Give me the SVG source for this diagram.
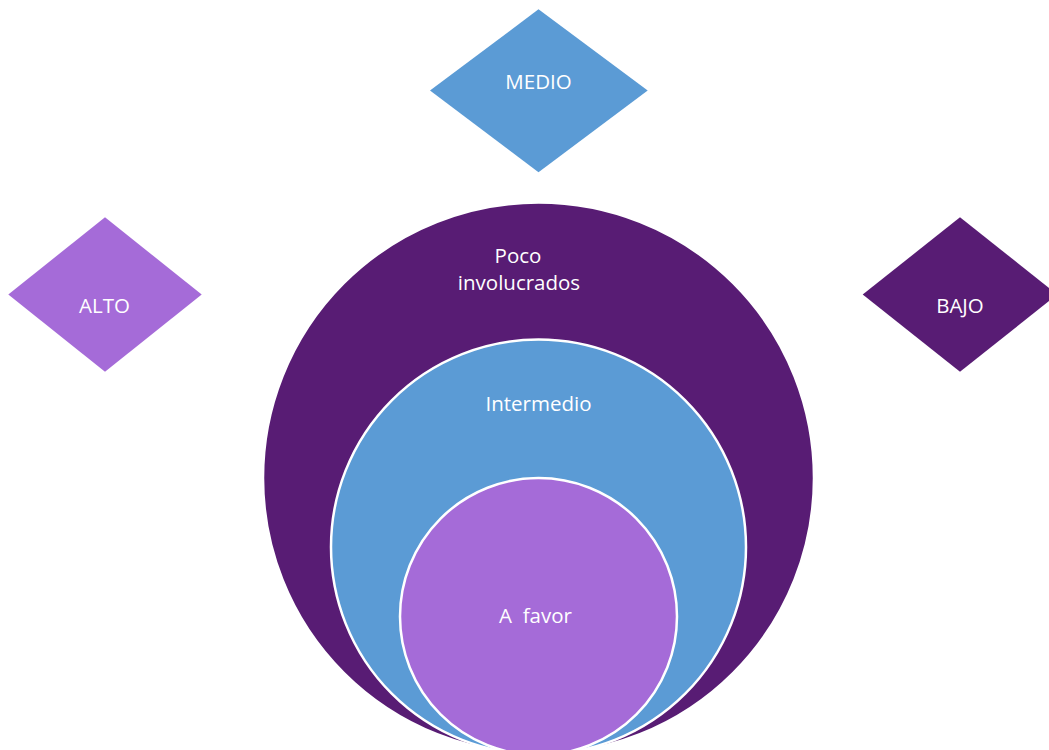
<svg xmlns="http://www.w3.org/2000/svg" width="1049" height="750" viewBox="0 0 1049 750">
<style>
.lbl{font-family:"Open Sans","Noto Sans","Liberation Sans",sans-serif;font-size:20.5px;fill:#FFFFFF;text-anchor:middle;white-space:pre}
.dark{fill:#581C74}
.blue{fill:#5B9BD5}
.light{fill:#A56BD8}
.ring{stroke:#FFFFFF;stroke-width:2.5}
</style>
<rect width="1049" height="750" fill="#FFFFFF"/>
<g id="outer">
<circle class="dark ring" cx="538.5" cy="478" r="275.5"/>
<text class="lbl" x="518" y="262.5">Poco</text>
<text class="lbl" x="519" y="289.5">involucrados</text>
</g>
<g id="middle">
<circle class="blue ring" cx="538.5" cy="547" r="207.5"/>
<text class="lbl" x="538.5" y="411">Intermedio</text>
</g>
<g id="inner">
<circle class="light ring" cx="538.5" cy="616.5" r="138.5"/>
<text class="lbl" x="535.5" y="622.5">A  favor</text>
</g>
<g id="medio">
<polygon class="blue" points="538.5,9.3 647.7,90.5 538.5,172.3 430,90.5"/>
<text class="lbl" x="538.5" y="89">MEDIO</text>
</g>
<g id="alto">
<polygon class="light" points="105,217.3 201.7,294.5 105,371.7 8.3,294.5"/>
<text class="lbl" x="104.5" y="313.3">ALTO</text>
</g>
<g id="bajo">
<polygon class="dark" points="960,217.3 1057.3,294.5 960,371.7 862.7,294.5"/>
<text class="lbl" x="960" y="313.3">BAJO</text>
</g>
<g id="connectors"></g>
</svg>
